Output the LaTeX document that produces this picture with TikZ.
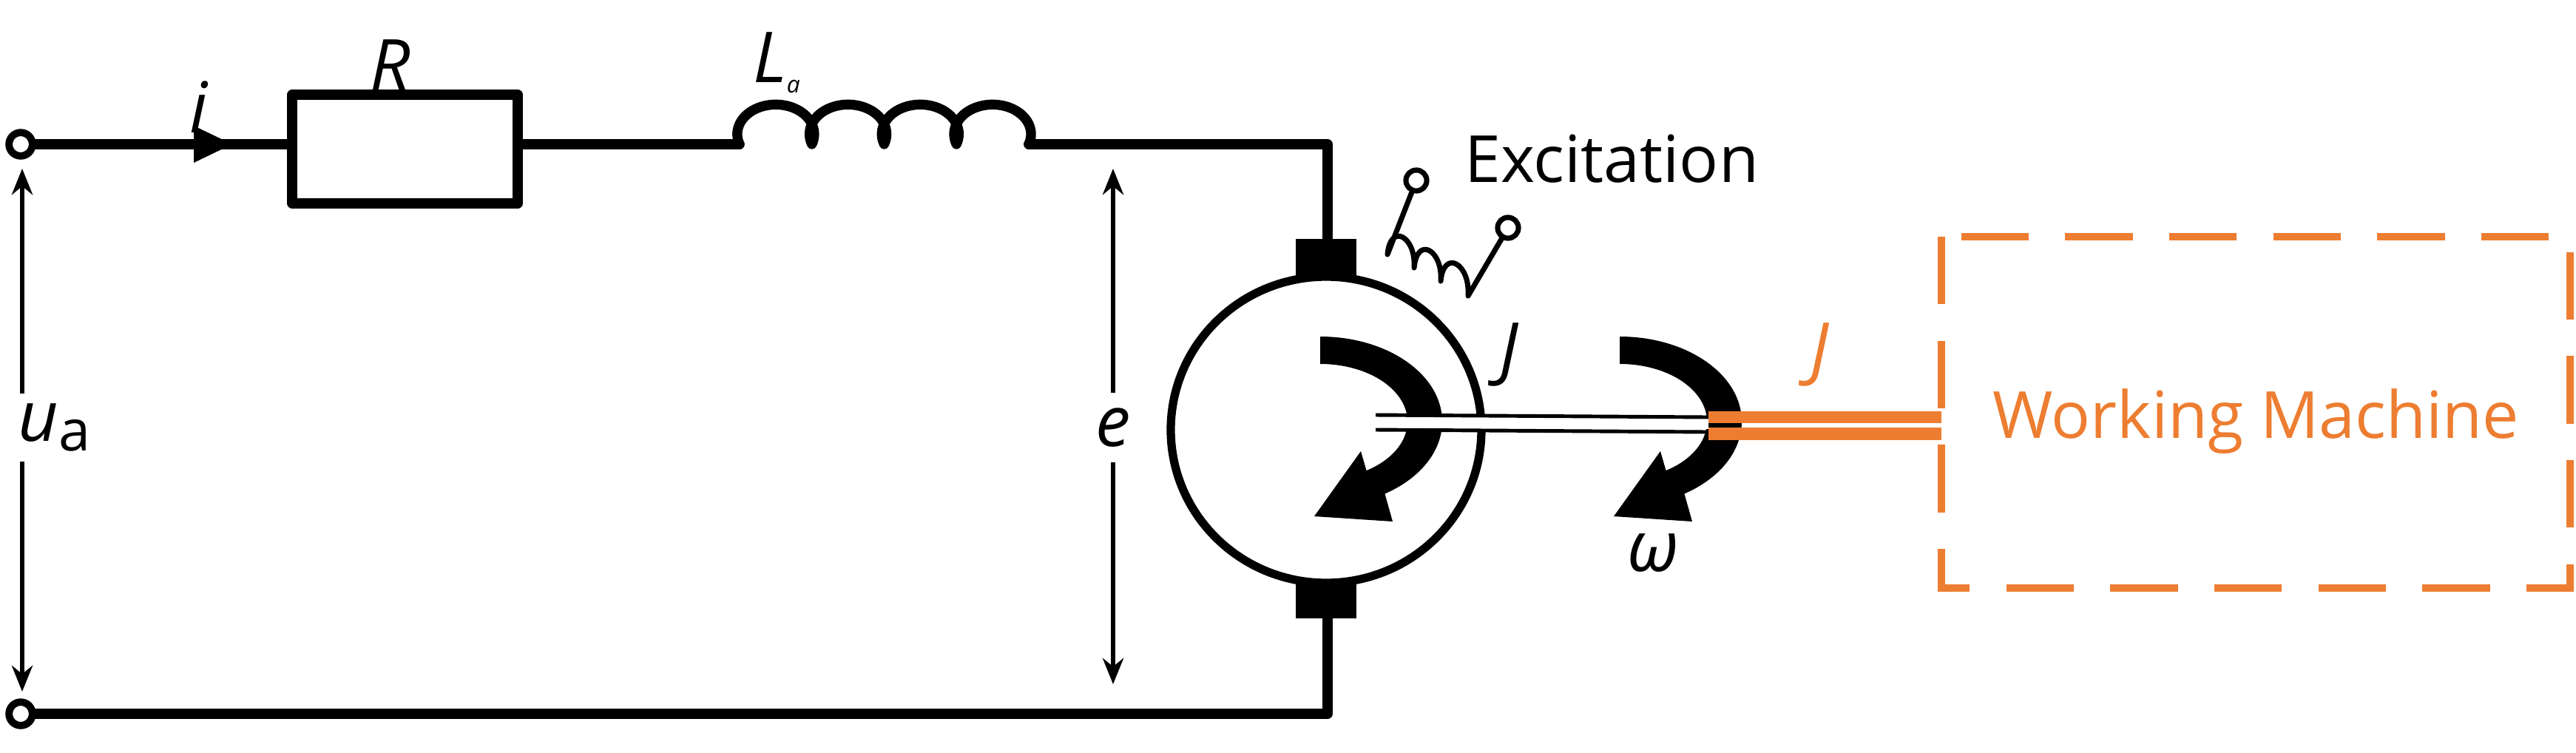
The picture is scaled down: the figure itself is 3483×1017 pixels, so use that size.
\documentclass[tikz,border=0pt]{standalone}
\usepackage{fontspec}
\setmainfont{Open Sans}
\usetikzlibrary{arrows.meta,calc}
\definecolor{org}{RGB}{237,125,49}
\tikzset{
  wire/.style={line width=3.8pt,line cap=round,line join=round},
  term/.style={circle,draw,line width=2.8pt,minimum size=9pt,inner sep=0pt,fill=white},
  volt/.style={line width=1.8pt,{Stealth[length=10pt,width=8pt]}-{Stealth[length=10pt,width=8pt]}},
  lbl/.style={font=\fontsize{27}{30}\selectfont\itshape},
  txt/.style={font=\fontsize{25}{30}\selectfont},
}
\begin{document}
\begin{tikzpicture}[x=0.01cm,y=0.01cm]
\useasboundingbox (0,0) rectangle (3483,-1017);
% terminals
\node[term] (t1) at (28,-195) {};
\node[term] (t2) at (28,-965) {};
\coordinate (rl) at (395,-195);
\coordinate (rr) at (700,-195);
\coordinate (l1) at (1000,-195);
\coordinate (tc) at (1795,-195);
\coordinate (bc) at (1795,-965);
\coordinate (bt) at (1795,-323);
\coordinate (bb) at (1795,-836);
% top wire with current arrow
\draw[wire] (t1) -- (rl);
\fill (262,-170) -- (314,-195) -- (262,-220) -- cycle;
\node[lbl] (il) at (268,-145) {i};
% resistor
\draw[wire] (395,-128) rectangle (700,-275);
\node[lbl] (Rl) at (528,-88) {R};
\draw[wire] (rr) -- (l1);
% inductor
\draw[wire] (l1) arc[start angle=200,end angle=-20,x radius=52,y radius=40]
  arc[start angle=200,end angle=-20,x radius=52,y radius=40]
  arc[start angle=200,end angle=-20,x radius=52,y radius=40]
  arc[start angle=200,end angle=-20,x radius=52,y radius=40] coordinate (l2);
\node[lbl] (Ll) at (1050,-85) {L\raisebox{-4pt}{\fontsize{9}{9}\selectfont a}};
\draw[wire] (l2) -- (tc) -- (bt);
\draw[wire] (t2) -- (bc) -- (bb);
% voltage arrows
\draw[volt] (30,-228) -- (30,-935);
\node[lbl,fill=white,inner sep=4pt,anchor=west] (ua) at (10,-578) {u\textsubscript{\normalfont\fontsize{22}{24}\selectfont a}};
\draw[volt] (1505,-228) -- (1505,-925);
\node[lbl,fill=white,inner sep=6pt] (el) at (1505,-578) {e};
% curved arrows
\foreach \cx in {1785,2190}{
  \coordinate (c) at (\cx,-570);
  \fill ($(c)+(90:165 and 115)$) arc[start angle=90,end angle=-58,x radius=165,y radius=115]
    -- ($(c)+(98,-135)$) -- ($(c)+(-8,-128)$) -- ($(c)+(55,-40)$)
    -- ($(c)+(-58:118 and 78)$) arc[start angle=-58,end angle=90,x radius=118,y radius=78] -- cycle;
}
% motor
\draw[line width=3.2pt] (1793,-581) ellipse [x radius=210,y radius=207];
\fill (1752,-323) rectangle (1834,-375);
\fill (1752,-787) rectangle (1834,-836);
% shaft
\draw[line width=5pt,white] (1860,-571) -- (2310,-571);
\draw[line width=1.4pt] (1860,-561) -- (2310,-564);
\draw[line width=1.4pt] (1860,-581) -- (2310,-584);
\fill[org] (2310,-556) rectangle (2625,-572);
\fill[org] (2310,-578) rectangle (2625,-595);
% labels
\node[lbl] (J1) at (2040,-480) {J};
\node[lbl,text=org] (J2) at (2460,-480) {J};
\node[lbl] (om) at (2235,-748) {ω};
% excitation
\node[term,minimum size=8pt,line width=2pt] (e1) at (1915,-244) {};
\node[term,minimum size=8pt,line width=2pt] (e2) at (2039,-308) {};
\draw[line width=2pt,line join=round,line cap=round] (e1) -- (1876,-344)
  .. controls (1880,-300) and (1915,-320) .. (1912,-362)
  .. controls (1916,-318) and (1951,-338) .. (1948,-380)
  .. controls (1952,-336) and (1988,-356) .. (1985,-400)
  -- (e2);
\node[txt,anchor=west] (ex) at (1968,-215) {Excitation};
% working machine
\draw[org,line width=2.6pt,dash pattern=on 26pt off 14pt] (2625,-320) rectangle (3475,-795);
\node[txt,text=org] (wm) at (3050,-570) {Working Machine};
\end{tikzpicture}
\end{document}
